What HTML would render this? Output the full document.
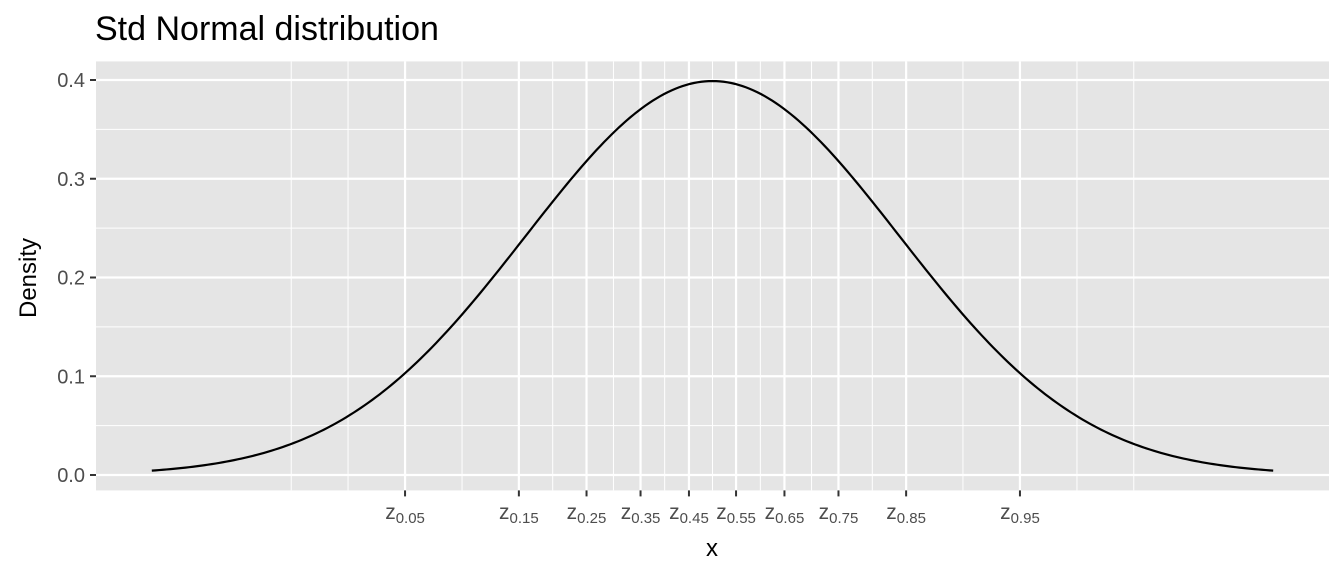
<!DOCTYPE html>
<html><head><meta charset="utf-8"><style>
body{margin:0;background:#fff}
svg text{font-family:"Liberation Sans",Arial,sans-serif}
</style></head><body>
<svg id="chart" width="1344" height="576" xmlns="http://www.w3.org/2000/svg">
<text x="95" y="40" font-size="34" fill="#000">Std Normal distribution</text>
<rect id="panel" x="96" y="61.4" width="1233" height="429" fill="#e5e5e5"/>
<g id="grid"></g><g id="curve"></g><g id="axes"></g>
<text x="36" y="278" font-size="24" text-anchor="middle" transform="rotate(-90 36 278)" fill="#000">Density</text>
<text x="712" y="556" font-size="24" text-anchor="middle" fill="#000">x</text>
</svg>
<script>
const probs=[0.05,0.15,0.25,0.35,0.45,0.55,0.65,0.75,0.85,0.95];
const zvals=[-1.645,-1.036,-0.674,-0.385,-0.126,0.126,0.385,0.674,1.036,1.645];
const minorX=[-2.254,-1.95,-1.34,-0.855,-0.53,-0.256,0,0.256,0.53,0.855,1.34,1.95,2.254];
const yTicks=[0,0.1,0.2,0.3,0.4];
const yTickLabels=["0.0","0.1","0.2","0.3","0.4"];
const yMinor=[0.05,0.15,0.25,0.35];
const xRange=[-3,3];
const NS="http://www.w3.org/2000/svg";
const X=v=>712.5+v*186.9;
const Y=v=>475-v*987.5;
function mk(t,a,p){const e=document.createElementNS(NS,t);for(const k in a)e.setAttribute(k,a[k]);p.appendChild(e);return e;}
const g=document.getElementById('grid'),ax=document.getElementById('axes'),cg=document.getElementById('curve');
const B=490.4;
yMinor.forEach(v=>{const l=mk('line',{x1:96,x2:1329,y1:Y(v),y2:Y(v),stroke:'#fff','stroke-width':1},g);

});
minorX.forEach(v=>{const l=mk('line',{x1:X(v),x2:X(v),y1:61.4,y2:B,stroke:'#fff','stroke-width':1},g);

});
yTicks.forEach((v,i)=>{const l=mk('line',{x1:96,x2:1329,y1:Y(v),y2:Y(v),stroke:'#fff','stroke-width':2.2},g);


const t=mk('line',{x1:90,x2:96,y1:Y(v),y2:Y(v),stroke:'#333','stroke-width':2},ax);


const tx=mk('text',{x:85,y:Y(v)+7,'font-size':20,'text-anchor':'end',fill:'#4d4d4d'},ax);tx.textContent=yTickLabels[i];

});
zvals.forEach((v,i)=>{const l=mk('line',{x1:X(v),x2:X(v),y1:61.4,y2:B,stroke:'#fff','stroke-width':2.2},g);


const t=mk('line',{x1:X(v),x2:X(v),y1:B,y2:B+6,stroke:'#333','stroke-width':2},ax);


const tx=mk('text',{x:X(v),y:519,'font-size':21,'text-anchor':'middle',fill:'#4d4d4d'},ax);


tx.appendChild(document.createTextNode('z'));
const s=mk('tspan',{'font-size':15,dy:4},tx);s.textContent=probs[i].toFixed(2);});
let d='';const n=300;
for(let i=0;i<=n;i++){const x=xRange[0]+(xRange[1]-xRange[0])*i/n;const y=Math.exp(-x*x/2)/Math.sqrt(2*Math.PI);d+=(i?'L':'M')+X(x).toFixed(2)+','+Y(y).toFixed(2);}
const p=mk('path',{d:d,fill:'none',stroke:'#000','stroke-width':2.2},cg);


</script>
</body></html>
